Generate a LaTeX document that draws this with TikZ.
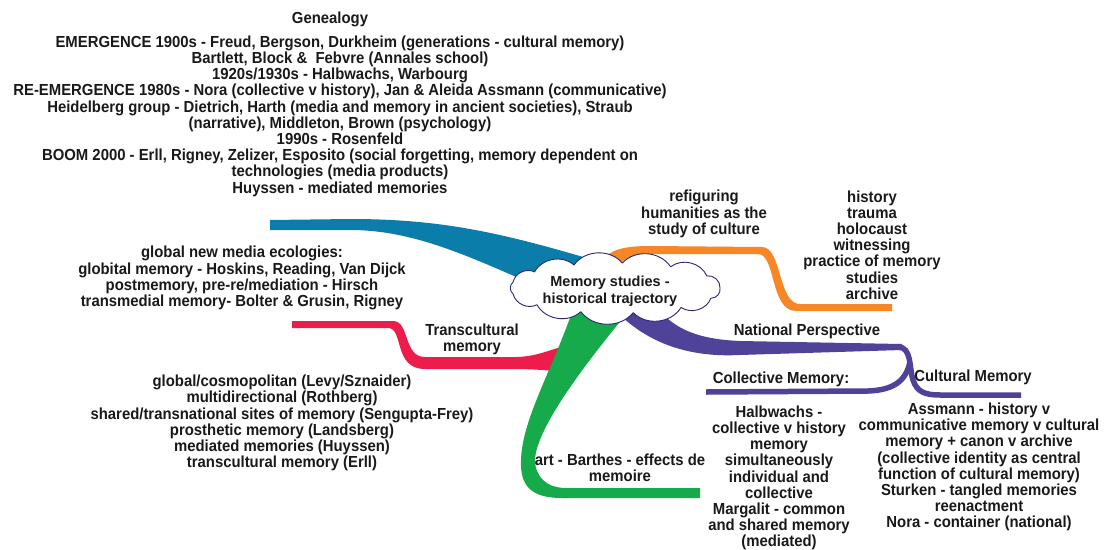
\documentclass[tikz,border=0pt]{standalone}
\usepackage{fontspec}
\setmainfont{Liberation Sans}
\newfontfamily\narrowfont{Liberation Sans}[FakeStretch=0.93]
\usetikzlibrary{calc}
\definecolor{cblue}{RGB}{10,125,170}
\definecolor{corange}{RGB}{246,134,38}
\definecolor{cred}{RGB}{236,28,75}
\definecolor{cgreen}{RGB}{22,170,75}
\definecolor{cpurple}{RGB}{79,66,153}
\definecolor{cloudline}{RGB}{40,40,110}
\begin{document}
\begin{tikzpicture}[x=1pt,y=-1pt,
  txt/.style={font=\narrowfont\bfseries\fontsize{16}{16.2}\selectfont, align=center, inner sep=0pt, text=black!90},
  cloudtxt/.style={font=\bfseries\fontsize{14.5}{16.5}\selectfont, align=center, inner sep=0pt, text=black!90},
  cloudpath/.style={draw=cloudline, line width=0.9pt, fill=white, line join=round},
  puff/.style={bend right=52},
  thinbranch/.style={line width=5.5pt, line cap=butt},
]
\useasboundingbox (0,0) rectangle (1108,549);

% blue branch
\fill[cblue] (270,220) -- (350,219) .. controls (440,219) and (500,232) .. (600,262)
  -- (560,296) .. controls (480,262) and (420,230) .. (350,230) -- (270,230) -- cycle;

% orange branch
\fill[corange] (598,268) .. controls (605,250) and (622,246) .. (650,246) -- (762,247)
  .. controls (782,247) and (778,304) .. (800,304) -- (892,304) -- (892,311) -- (796,311)
  .. controls (770,311) and (776,254) .. (758,254) -- (650,254) .. controls (630,254) and (620,260) .. (615,272) -- cycle;

% red branch
\fill[cred] (292,321) -- (393,321) .. controls (410,321) and (403,357) .. (425,357) -- (515,357)
  .. controls (535,357) and (550,350) .. (570,344) -- (565,372) .. controls (545,370) and (530,369) .. (515,369)
  -- (425,369) .. controls (393,369) and (404,328) .. (388,328) -- (292,328) -- cycle;

% green branch
\fill[cgreen] (572,312) .. controls (552,370) and (522,420) .. (521,460)
  .. controls (520,485) and (530,498) .. (562,498) -- (700,498) -- (700,488) -- (566,488)
  .. controls (545,488) and (535,475) .. (535,460) .. controls (536,430) and (580,370) .. (628,312) -- cycle;

% purple branch
\fill[cpurple] (650,298) .. controls (668,326) and (692,339) .. (740,341) -- (902,344)
  -- (902,350) -- (740,355) .. controls (680,358) and (640,338) .. (610,305) -- cycle;
\draw[cpurple, thinbranch] (898,347) .. controls (912,347) and (909,368) .. (913,380)
  .. controls (917,392) and (925,395) .. (940,395) -- (1021,395);
\draw[cpurple, thinbranch] (706,392) -- (868,391) .. controls (895,390) and (906,380) .. (910,362);

% central cloud
\coordinate (cc) at (615,288);
\foreach \a [count=\i] in {0,29,58,86,113,140,166,194,222,251,280,309,336}
  \coordinate (q\i) at ($(cc)+(\a:105pt and 25pt)$);
\path[cloudpath] (q1) to[puff] (q2) to[puff] (q3) to[puff] (q4) to[puff] (q5) to[puff] (q6)
  to[puff] (q7) to[puff] (q8) to[puff] (q9) to[puff] (q10) to[puff] (q11) to[puff] (q12)
  to[puff] (q13) to[puff] (q1) -- cycle;
\node[cloudtxt] (ctext) at (610,291) {Memory studies -\\historical trajectory};

% texts
\node[txt] (gentitle) at (330,19) {Genealogy};
\node[txt] (gen) at (340,116) {EMERGENCE 1900s - Freud, Bergson, Durkheim (generations - cultural memory)\\
Bartlett, Block \&\ \ Febvre (Annales school)\\
1920s/1930s - Halbwachs, Warbourg\\
RE-EMERGENCE 1980s - Nora (collective v history), Jan \& Aleida Assmann (communicative)\\
Heidelberg group - Dietrich, Harth (media and memory in ancient societies), Straub\\
(narrative), Middleton, Brown (psychology)\\
1990s - Rosenfeld\\
BOOM 2000 - Erll, Rigney, Zelizer, Esposito (social forgetting, memory dependent on\\
technologies (media products)\\
Huyssen - mediated memories};

\node[txt] (media) at (242,278) {global new media ecologies:\\
globital memory - Hoskins, Reading, Van Dijck\\
postmemory, pre-re/mediation - Hirsch\\
transmedial memory- Bolter \& Grusin, Rigney};

\node[txt] (trans) at (472,339) {Transcultural\\memory};

\node[txt] (translist) at (282,423) {global/cosmopolitan (Levy/Sznaider)\\
multidirectional (Rothberg)\\
shared/transnational sites of memory (Sengupta-Frey)\\
prosthetic memory (Landsberg)\\
mediated memories (Huyssen)\\
transcultural memory (Erll)};

\node[txt] (refig) at (704,214) {refiguring\\humanities as the\\study of culture};

\node[txt] (hist) at (872,245) {history\\trauma\\holocaust\\witnessing\\practice of memory\\studies\\archive};

\node[txt] (national) at (807,331) {National Perspective};
\node[txt] (collective) at (781,379) {Collective Memory:};
\node[txt] (cultural) at (973,377) {Cultural Memory};

\node[txt] (halb) at (779,478) {Halbwachs -\\collective v history\\memory\\simultaneously\\individual and\\collective\\Margalit - common\\and shared memory\\(mediated)};

\node[txt] (assmann) at (979,467) {Assmann - history v\\communicative memory v cultural\\memory + canon v archive\\(collective identity as central\\function of cultural memory)\\Sturken - tangled memories\\reenactment\\Nora - container (national)};

\node[txt] (art) at (620,468) {art - Barthes - effects de\\memoire};
\end{tikzpicture}
\end{document}
